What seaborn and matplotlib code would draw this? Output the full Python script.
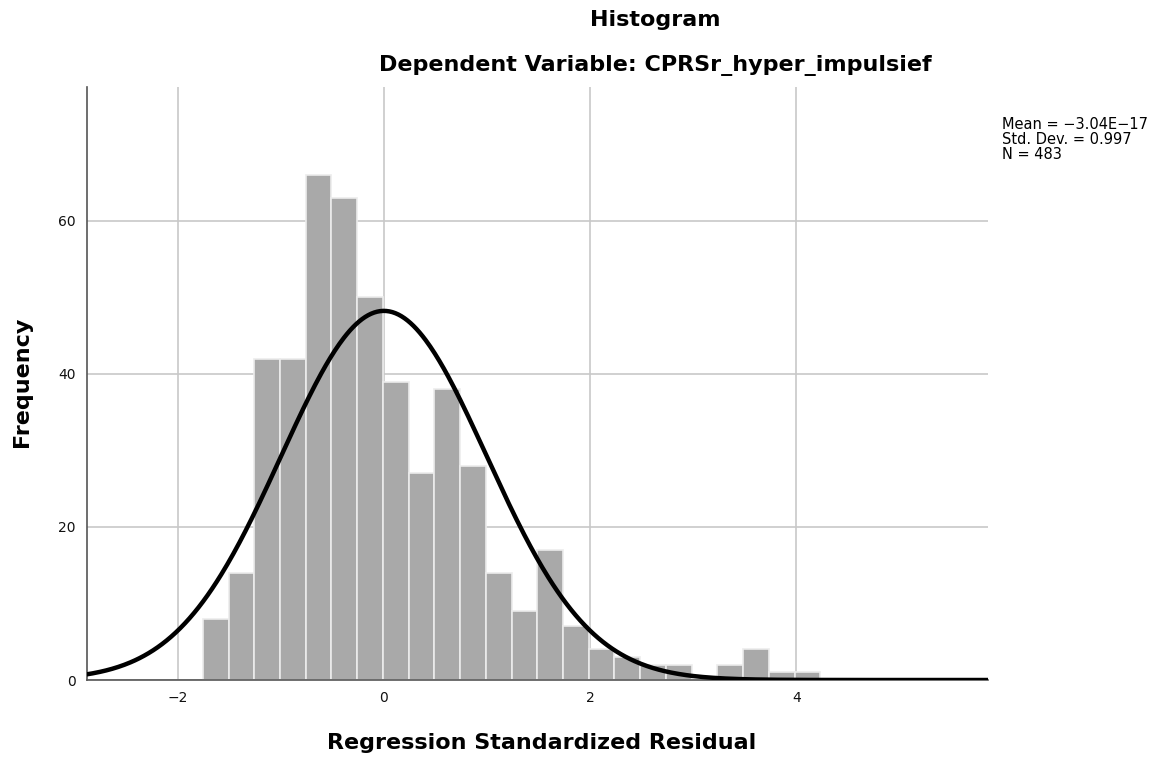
import numpy as np
import pandas as pd
import matplotlib
matplotlib.use("Agg")
import matplotlib.pyplot as plt
import seaborn as sns

# Data
bin_start = -1.757
bin_width = 0.2496
counts = [8, 14, 42, 42, 66, 63, 50, 39, 27, 38, 28, 14, 9, 17, 7, 4, 3, 2, 2, 0, 2, 4, 1, 1]
x_ticks = [-2, 0, 2, 4]
y_ticks = [0, 20, 40, 60]
mean_val = -3.04e-17
std_val = 0.997
n_val = 483

sns.set_theme(style="white")
plt.rcParams['font.family'] = ['DejaVu Sans']
plt.rcParams['text.color'] = 'black'

edges = [bin_start + bin_width * i for i in range(len(counts) + 1)]
centers = [(edges[i] + edges[i + 1]) / 2 for i in range(len(counts))]
df = pd.DataFrame({"resid": centers, "count": counts})

fig = plt.figure(figsize=(11.67, 7.6), dpi=100)
ax = fig.add_axes([87 / 1167, 1 - 680 / 760, (988 - 87) / 1167, (680 - 87) / 760])

ax.grid(True, color="#c8c8c8", linewidth=1.2, zorder=0)
ax.set_axisbelow(True)

sns.histplot(data=df, x="resid", weights="count", bins=edges, ax=ax,
             color="#a9a9a9", edgecolor="#ececec", linewidth=1.2, alpha=1.0, zorder=2)

xs = np.linspace(-2.9, 5.9, 600)
pdf = np.exp(-0.5 * ((xs - mean_val) / std_val) ** 2) / (std_val * np.sqrt(2 * np.pi))
sns.lineplot(x=xs, y=n_val * bin_width * pdf, ax=ax, color="black", linewidth=3.2, zorder=3)

ax.set_xlim(-2.88, 5.86)
ax.set_ylim(0, 77.5)
ax.set_xticks(x_ticks)
ax.set_yticks(y_ticks)
ax.set_xticklabels(["\u22122", "0", "2", "4"])
ax.tick_params(axis="both", length=0, labelsize=10, colors="#111111", pad=8)
ax.set_xlabel("")
ax.set_ylabel("")
for s in ["top", "right"]:
    ax.spines[s].set_visible(False)
for s in ["left", "bottom"]:
    ax.spines[s].set_color("#555555")
    ax.spines[s].set_linewidth(1.2)

fig.text(655 / 1167, 1 - 20 / 760, "Histogram", ha="center", va="center",
         fontsize=16, fontweight="bold")
fig.text(655 / 1167, 1 - 66 / 760, "Dependent Variable: CPRSr_hyper_impulsief",
         ha="center", va="center", fontsize=16, fontweight="bold")
fig.text(542 / 1167, 1 - 743 / 760, "Regression Standardized Residual",
         ha="center", va="center", fontsize=16, fontweight="bold")
fig.text(22 / 1167, 1 - 382 / 760, "Frequency", ha="center", va="center",
         rotation=90, fontsize=16, fontweight="bold")
fig.text(1002 / 1167, 1 - 117 / 760,
         "Mean = \u22123.04E\u221217\nStd. Dev. = 0.997\nN = 483",
         ha="left", va="top", fontsize=10.5, linespacing=1.0)

fig.savefig("out.png", dpi=100, facecolor="white")
